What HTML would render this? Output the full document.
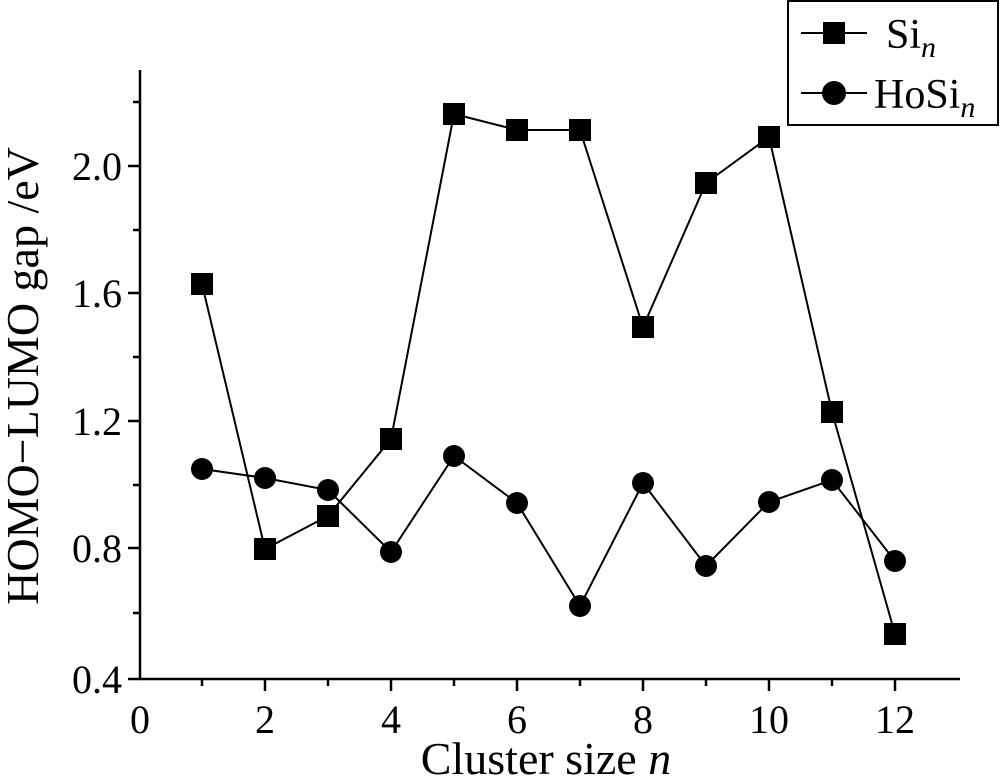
<!DOCTYPE html>
<html><head><style>body{margin:0;background:#fff}svg{display:block}text{font-family:"Liberation Serif",serif;fill:#000}</style></head>
<body>
<svg width="1000" height="777" viewBox="0 0 1000 777">
<g stroke="#000" stroke-width="2.5" fill="none">
<path d="M140,70 V679 H960"/>
<path d="M140,166 h-12 M140,293 h-12 M140,421 h-12 M140,548 h-12 M140,679 h-12"/>
<path d="M140,102 h-7 M140,230 h-7 M140,357 h-7 M140,485 h-7 M140,613 h-7"/>
<path d="M265,679 v12 M391,679 v12 M517,679 v12 M643,679 v12 M769,679 v12 M895,679 v12"/>
<path d="M202,679 v7 M328,679 v7 M454,679 v7 M580,679 v7 M706,679 v7 M832,679 v7"/>
</g>
<g font-size="40" text-anchor="end">
<text x="122" y="180">2.0</text><text x="122" y="307">1.6</text><text x="122" y="435">1.2</text><text x="122" y="562">0.8</text><text x="122" y="693">0.4</text>
</g>
<g font-size="40" text-anchor="middle">
<text x="140" y="733">0</text><text x="265" y="733">2</text><text x="391" y="733">4</text><text x="517" y="733">6</text><text x="643" y="733">8</text><text x="769" y="733">10</text><text x="895" y="733">12</text>
</g>
<g font-size="46" text-anchor="middle">
<text x="546" y="774">Cluster size <tspan font-style="italic">n</tspan></text>
<text transform="translate(38,376) rotate(-90)">HOMO−LUMO gap /eV</text>
</g>
<g stroke="#000" stroke-width="2" fill="none">
<polyline points="202,284 265,549 328,516 391,439 454,114 517,130 580,130 643,327 706,183 769,137 832,412 895,634"/>
<polyline points="202,469 265,478 328,490 391,552 454,456 517,503 580,606 643,483 706,566 769,502 832,480 895,561"/>
</g>
<g fill="#000">
<rect x="191" y="273" width="22" height="22"/><rect x="254" y="538" width="22" height="22"/><rect x="317" y="505" width="22" height="22"/><rect x="380" y="428" width="22" height="22"/><rect x="443" y="103" width="22" height="22"/><rect x="506" y="119" width="22" height="22"/><rect x="569" y="119" width="22" height="22"/><rect x="632" y="316" width="22" height="22"/><rect x="695" y="172" width="22" height="22"/><rect x="758" y="126" width="22" height="22"/><rect x="821" y="401" width="22" height="22"/><rect x="884" y="623" width="22" height="22"/>
<circle cx="202" cy="469" r="11"/><circle cx="265" cy="478" r="11"/><circle cx="328" cy="490" r="11"/><circle cx="391" cy="552" r="11"/><circle cx="454" cy="456" r="11"/><circle cx="517" cy="503" r="11"/><circle cx="580" cy="606" r="11"/><circle cx="643" cy="483" r="11"/><circle cx="706" cy="566" r="11"/><circle cx="769" cy="502" r="11"/><circle cx="832" cy="480" r="11"/><circle cx="895" cy="561" r="11"/>
</g>
<rect x="788" y="1" width="210" height="124" fill="#fff" stroke="#000" stroke-width="2"/>
<g stroke="#000" stroke-width="2"><path d="M801,33 H867 M801,93 H867"/></g>
<rect x="823" y="22" width="22" height="22" fill="#000"/>
<circle cx="834" cy="93" r="12" fill="#000"/>
<g font-size="42"><text x="886" y="48">Si<tspan font-size="30" font-style="italic" dy="9">n</tspan></text>
<text x="874" y="108">HoSi<tspan font-size="30" font-style="italic" dy="9">n</tspan></text></g>
</svg>
</body></html>
